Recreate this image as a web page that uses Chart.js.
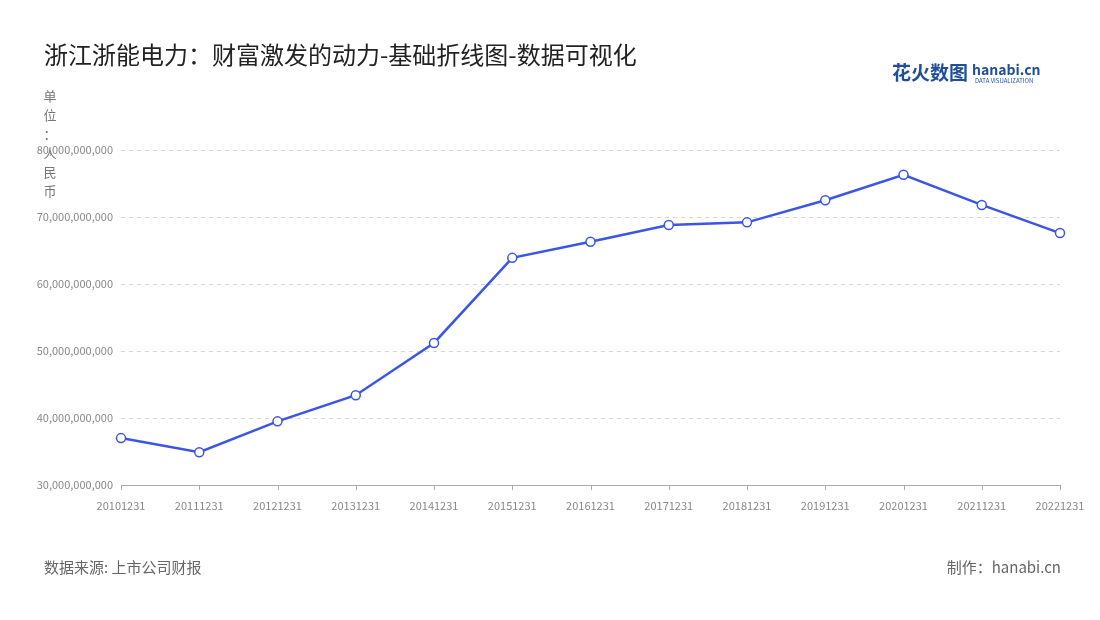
<!DOCTYPE html>
<html><head><meta charset="utf-8">
<script src="https://cdn.jsdelivr.net/npm/chart.js@4/dist/chart.umd.min.js"></script>
<style>html,body{margin:0;padding:0;background:#fff}#wrap{width:1100px;height:620px}</style>
</head><body><div id="wrap"><canvas id="c"></canvas></div>
<script>
const categories=["20101231","20111231","20121231","20131231","20141231","20151231","20161231","20171231","20181231","20191231","20201231","20211231","20221231"];
const values=[37.0e9,34.9e9,39.5e9,43.4e9,51.2e9,63.9e9,66.3e9,68.8e9,69.2e9,72.5e9,76.3e9,71.8e9,67.6e9];
const FONT='"Noto Sans CJK SC","Noto Sans",sans-serif';
const deco={id:'deco',afterDraw(ch){const c=ch.ctx;c.save();
c.fillStyle='#222';c.font='24px '+FONT;c.textBaseline='middle';c.fillText('浙江浙能电力：财富激发的动力-基础折线图-数据可视化',44,55);
c.font='bold 19px '+FONT;c.fillStyle='#1f4e9c';c.fillText('花火数图',892,73);
c.font='bold 14px '+FONT;c.fillText('hanabi.cn',972,70);
c.font='6px '+FONT;c.fillText('DATA VISUALIZATION',975,81);
c.fillStyle='#777';c.font='13px '+FONT;c.textAlign='center';
['单','位','：','人','民','币'].forEach((t,i)=>c.fillText(t,50,96+i*19));
c.textAlign='left';c.font='15px '+FONT;c.fillStyle='#666';c.fillText('数据来源: 上市公司财报',44,567);
c.textAlign='right';c.fillText('制作：hanabi.cn',1061,567);
// x tick marks
const xs=ch.scales.x,b=ch.chartArea.bottom;c.strokeStyle='#aaa';c.lineWidth=1;
categories.forEach((_,i)=>{const x=Math.round(xs.getPixelForValue(i))+0.5;c.beginPath();c.moveTo(x,b);c.lineTo(x,b+5);c.stroke();});
c.restore();}};
new Chart(document.getElementById('c'),{type:'line',
data:{labels:categories,datasets:[{data:values,borderColor:'#3b55e6',borderWidth:2.5,backgroundColor:'#fff',pointBackgroundColor:'#fff',pointBorderColor:'#3b55e6',pointBorderWidth:1.5,pointRadius:4.5,tension:0}]},
options:{responsive:true,maintainAspectRatio:false,animation:false,
layout:{padding:{top:150,right:40,left:0,bottom:0}},
plugins:{legend:{display:false},tooltip:{enabled:false}},
scales:{
x:{offset:false,afterFit(s){s.height=135},grid:{display:false},border:{color:'#aaa'},ticks:{color:'#888',font:{size:11,family:FONT},maxRotation:0,autoSkip:false,padding:6}},
y:{min:30e9,max:80e9,afterFit(s){s.width=121},border:{display:false,dash:[4,4]},grid:{color:'#d6d6d6',drawTicks:false},
ticks:{stepSize:10e9,color:'#888',font:{size:11,family:FONT},padding:8,callback:v=>v.toLocaleString('en-US')}}}},
plugins:[deco]});
</script></body></html>
